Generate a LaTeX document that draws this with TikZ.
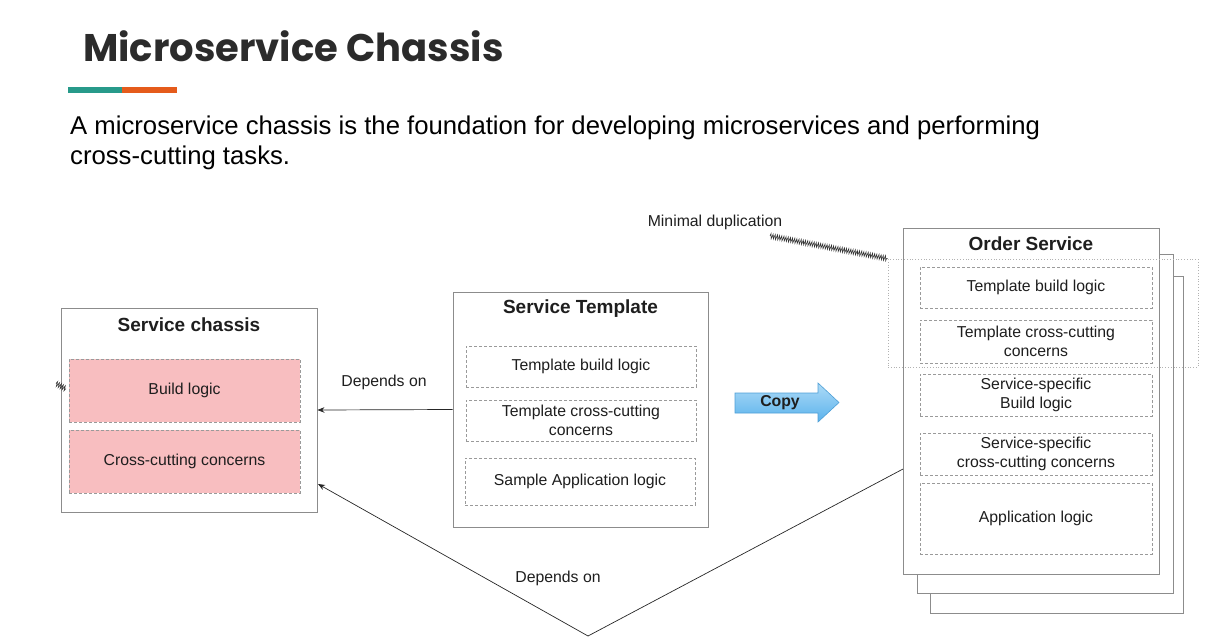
\documentclass[tikz,border=0pt]{standalone}
\usepackage{fontspec}
\setmainfont{Liberation Sans}
\newfontfamily\titlefont{Poppins}
\usetikzlibrary{decorations.pathmorphing,arrows.meta}
\definecolor{boxline}{HTML}{8C8C8C}
\definecolor{dashline}{HTML}{9A9A9A}
\definecolor{pinkfill}{HTML}{F8BEC0}
\definecolor{txt}{HTML}{1E1E1E}
\definecolor{titlecol}{HTML}{2B2B2B}
\definecolor{teal}{HTML}{279A8A}
\definecolor{orng}{HTML}{E55B1B}
\definecolor{arrtop}{HTML}{AEDBF7}
\definecolor{arrbot}{HTML}{5AB2EC}
\definecolor{arrline}{HTML}{4E9FD6}
\begin{document}
\begin{tikzpicture}[x=1pt,y=-1pt,
  outerbox/.style={draw=boxline,line width=0.9pt,fill=white,rectangle,inner sep=0pt},
  innerbox/.style={draw=dashline,dash pattern=on 3pt off 2pt,line width=0.7pt,rectangle,inner sep=0pt,align=center,text=txt,font=\fontsize{15.8}{18.5}\selectfont},
  hdr/.style={font=\fontsize{19}{22}\selectfont\bfseries,text=txt,inner sep=0pt},
  lbl/.style={font=\fontsize{15.8}{18.5}\selectfont,text=txt,inner sep=0pt},
  conn/.style={draw=black!85,line width=0.7pt},
  tip/.style={-{Stealth[length=7pt,width=5.5pt]}},
  hatch/.style={draw=black!80,line width=0.6pt,decorate,decoration={zigzag,segment length=2.2pt,amplitude=2.4pt}}
]
\useasboundingbox (0,0) rectangle (1230,637);

% title
\node[anchor=base west,inner sep=0pt,text=titlecol,font=\titlefont\bfseries\fontsize{38.5}{46}\selectfont] (title) at (83,61) {Microservice Chassis};
\fill[teal] (68,87) rectangle (122,93);
\fill[orng] (122,87) rectangle (177,93);
\node[anchor=base west,inner sep=0pt,text=black,font=\fontsize{25.7}{30}\selectfont] (para1) at (70,134) {A microservice chassis is the foundation for developing microservices and performing};
\node[anchor=base west,inner sep=0pt,text=black,font=\fontsize{25.7}{30}\selectfont] (para2) at (70,164) {cross-cutting tasks.};

% Service chassis
\node[outerbox,minimum width=256pt,minimum height=204pt] (sc) at (189,410) {};
\node[hdr] (sct) at (189,325) {Service chassis};
\node[innerbox,fill=pinkfill,minimum width=231pt,minimum height=63pt] (bl) at (184.5,390.5) {Build logic};
\node[innerbox,fill=pinkfill,minimum width=231pt,minimum height=63pt] (cc) at (184.5,461.5) {Cross-cutting concerns};
\coordinate (sq1) at (56,383.5);
\coordinate (sq2) at (66,389);
\draw[hatch] (sq1) -- (sq2);

% Service template
\node[outerbox,minimum width=255pt,minimum height=235pt] (st) at (580.5,409.5) {};
\node[hdr] (stt) at (580.5,309) {Service Template};
\node[innerbox,minimum width=230pt,minimum height=41pt] (tbl) at (581,366.5) {Template build logic};
\node[innerbox,minimum width=230pt,minimum height=41pt] (tcc) at (581,420.5) {Template cross-cutting\\concerns};
\node[innerbox,minimum width=230pt,minimum height=47pt] (sal) at (580,481.5) {Sample Application logic};

% depends on (top)
\draw[conn,tip] (st.west) -- (sc.east);
\node[lbl] (dep1) at (384,382) {Depends on};

% copy arrow
\shade[top color=arrtop, bottom color=arrbot, draw=arrline, line width=0.6pt, line join=miter]
  (735,393) -- (818,393) -- (818,383) -- (839,402.5) -- (818,422) -- (818,413) -- (735,413) -- cycle;
\node[inner sep=0pt,font=\fontsize{15.8}{18}\selectfont\bfseries,text=txt] (copy) at (780,403) {Copy};

% Order service stack
\draw[outerbox] (930,276) rectangle (1183,613);
\draw[outerbox] (917,254) rectangle (1173,593);
\node[outerbox,minimum width=256pt,minimum height=346pt] (os) at (1031,401) {};
\node[hdr] (ost) at (1031,244) {Order Service};
\node[innerbox,minimum width=232pt,minimum height=41pt] (obl) at (1036,287.5) {Template build logic};
\node[innerbox,minimum width=232pt,minimum height=43pt] (occ) at (1036,341.5) {Template cross-cutting\\concerns};
\node[innerbox,minimum width=232pt,minimum height=42pt] (osb) at (1036,395) {Service-specific\\Build logic};
\node[innerbox,minimum width=232pt,minimum height=42pt] (osc) at (1036,454) {Service-specific\\cross-cutting concerns};
\node[innerbox,minimum width=232pt,minimum height=71pt] (oal) at (1036,518.5) {Application logic};
\node[draw=black!30,dotted,line width=0.8pt,rectangle,inner sep=0pt,minimum width=310pt,minimum height=108pt] (dup) at (1043,313) {};

% minimal duplication
\node[lbl] (md) at (715,222) {Minimal duplication};
\coordinate (mds) at (770,236);
\draw[hatch] (mds) -- (dup.north west);

% depends on (bottom)
\coordinate (osin) at (903,469);
\coordinate (vb) at (588,636);
\coordinate (scin) at (318,484);
\draw[conn,tip] (osin) -- (vb) -- (scin);
\node[lbl] (dep2) at (558,578) {Depends on};
\end{tikzpicture}
\end{document}
